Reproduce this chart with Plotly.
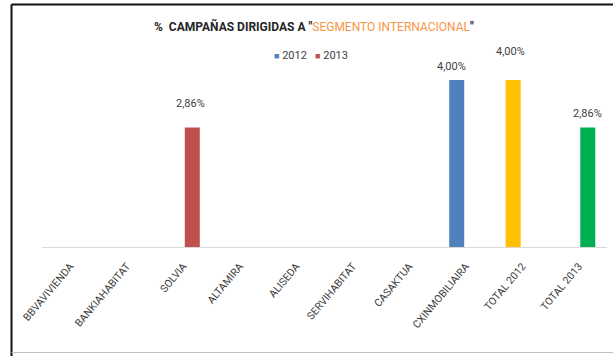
import plotly.graph_objects as go

categories = ["BBVAVIVIENDA", "BANKIAHABITAT", "SOLVIA", "ALTAMIRA", "ALISEDA",
              "SERVIHABITAT", "CASAKTUA", "CXINMOBILIAIRA", "TOTAL 2012", "TOTAL 2013"]
values_2012 = [None, None, None, None, None, None, None, 4.00, 4.00, None]
values_2013 = [None, None, 2.86, None, None, None, None, None, None, 2.86]
colors_2012 = ["#4F81BD"] * 8 + ["#FFC000", "#4F81BD"]
colors_2013 = ["#C0504D"] * 9 + ["#00B050"]
labels_2012 = [None, None, None, None, None, None, None, "4,00%", "4,00%", None]
labels_2013 = [None, None, "2,86%", None, None, None, None, None, None, "2,86%"]
label_shift_2012 = {7: (-14, 13), 8: (-12, 28)}
label_shift_2013 = {2: (7, 24), 9: (9, 14)}

TFONT = "Roboto, sans-serif"

fig = go.Figure()
fig.add_trace(go.Bar(name="2012", x=categories, y=values_2012,
                     marker=dict(color=colors_2012, line=dict(width=0))))
fig.add_trace(go.Bar(name="2013", x=categories, y=values_2013,
                     marker=dict(color=colors_2013, line=dict(width=0))))

annotations = []
for i, (lab, v) in enumerate(zip(labels_2012, values_2012)):
    if lab:
        dx, dy = label_shift_2012[i]
        annotations.append(dict(x=categories[i], y=v, text=lab, showarrow=False,
                                xshift=dx, yshift=dy, xref="x", yref="y",
                                font=dict(size=11, color="#404040", family=TFONT)))
for i, (lab, v) in enumerate(zip(labels_2013, values_2013)):
    if lab:
        dx, dy = label_shift_2013[i]
        annotations.append(dict(x=categories[i], y=v, text=lab, showarrow=False,
                                xshift=dx, yshift=dy, xref="x", yref="y",
                                font=dict(size=11, color="#404040", family=TFONT)))

W, H = 613, 356
L, R, T, B = 42, 6, 59, 109
pw, ph = W - L - R, H - T - B

def px(xp):
    return (xp - L) / pw

def py(yp):
    return (H - B - yp) / ph

annotations.append(dict(
    x=px(314), y=py(27), xref="paper", yref="paper", showarrow=False,
    xanchor="center", yanchor="middle",
    text="<b>%  CAMPAÑAS DIRIGIDAS A \"</b><span style='color:#F79646'>SEGMENTO INTERNACIONAL</span><b>\"</b>",
    font=dict(size=12, color="#262626", family=TFONT),
))
# legend (Excel style, compact)
annotations.append(dict(
    x=px(311), y=py(55), xref="paper", yref="paper", showarrow=False,
    xanchor="center", yanchor="middle",
    text="<span style='color:#4F81BD;font-size:9px'>■</span> 2012   "
         "<span style='color:#C0504D;font-size:9px'>■</span> 2013",
    font=dict(size=11, color="#404040", family=TFONT),
))

shapes = [
    dict(type="line", xref="paper", yref="paper", x0=px(11.5), x1=px(613), y0=py(4.5), y1=py(4.5),
         line=dict(color="#111111", width=2)),
    dict(type="line", xref="paper", yref="paper", x0=px(11.5), x1=px(11.5), y0=py(4.5), y1=py(356),
         line=dict(color="#111111", width=2)),
    dict(type="line", xref="paper", yref="paper", x0=px(11.5), x1=px(613), y0=py(352.5), y1=py(352.5),
         line=dict(color="#BFBFBF", width=1)),
]

fig.update_layout(
    width=W, height=H,
    margin=dict(l=L, r=R, t=T, b=B, pad=0, autoexpand=False),
    paper_bgcolor="white", plot_bgcolor="white",
    barmode="group", bargap=0.36, bargroupgap=0.17,
    showlegend=False,
    annotations=annotations,
    shapes=shapes,
    font=dict(family=TFONT),
)
fig.update_xaxes(showline=True, linecolor="#D9D9D9", linewidth=1, ticks="",
                 tickangle=-50, tickfont=dict(size=10.5, color="#404040", family=TFONT),
                 showgrid=False, range=[-0.5, 9.5], ticklabelstandoff=8, automargin=False)
fig.update_yaxes(visible=False, range=[0, 4.5], showgrid=False, zeroline=False, automargin=False)

fig.write_html("out.html", config={"displayModeBar": False},
               post_script="document.body.style.margin='0';document.body.style.overflow='hidden';")
